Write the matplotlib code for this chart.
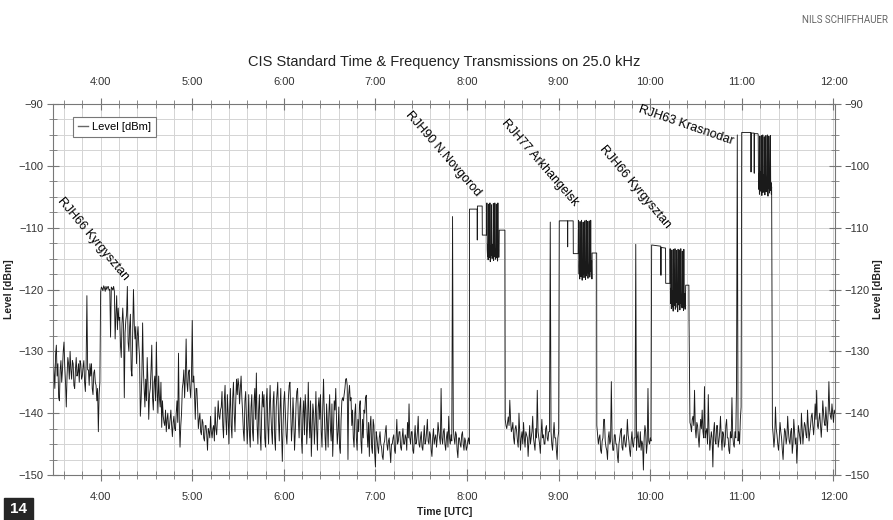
import numpy as np
import matplotlib.pyplot as plt

plt.rcParams["font.family"] = ["Liberation Sans", "DejaVu Sans"]

# Receiver level on 25.0 kHz, times are minutes after 0:00 UTC
# noise floor / weak signals, one reading every half minute
noise_a_start = 209
noise_a = [-131, -133.5, -136, -130.5, -129, -134, -132, -137.5, -138, -133,
           -131.5, -135, -133, -130, -128.5, -132.5, -135, -139, -134, -131,
           -132, -134.5, -130, -133, -134.5, -131.5, -132, -135.5, -136, -133,
           -131, -134, -133.5, -132, -135, -131.5, -132, -134.5, -134, -132.5,
           -131.5, -135, -136.5, -132, -121, -133, -133, -135.5, -132, -134,
           -132, -136, -137, -133.5, -133, -135, -135.5, -138, -136, -143,
           -137, -135]

noise_b_start = 240
noise_b = [-120.4, -119.6, -119.8, -120.2, -119.4, -119.7, -120.3, -119.5, -120.0, -119.6,
           -119.5, -120.1, -120.0, -127.7, -119.6, -119.8, -120.1, -119.5, -120.3, -128,
           -124, -121, -126.5, -123, -125, -124.5, -129, -131, -125.5, -123,
           -126, -137.5, -127, -125, -124, -119.5, -128.5, -130, -126, -124,
           -133, -134, -127, -120, -125.5, -128, -126, -132, -127.5, -126,
           -129, -131]

noise_c_start = 266
noise_c = [-140.5, -138, -134, -125.4, -133, -136, -139, -134.5, -138, -131,
           -135, -141, -137, -136, -133, -129, -137.5, -139.5, -135, -134,
           -138, -128.5, -136, -140, -134, -137.5, -139, -135, -142.3, -138,
           -140.5, -141.5, -142, -139.5, -143, -141, -140, -142.5, -142.5, -141,
           -139.5, -142, -143.8, -141.5, -140.5, -142.5, -142.8, -140, -138, -141.5,
           -130.3, -141, -145.5, -142, -140, -136, -135, -133, -137.5, -134,
           -128, -135, -136.5, -133.5, -133, -136, -137.5, -134, -125, -135,
           -134, -137, -141, -136, -136, -139, -142.5, -141, -140, -143,
           -143.5, -141, -141.5, -144, -144.5, -142, -142, -143.5, -146, -142.5,
           -143, -144, -140.5, -143, -144, -142.5, -142, -144.5, -139, -142.5,
           -143.5, -141, -138, -140.5, -141, -139.5]

noise_d_start = 319
noise_d = [-139, -136.5, -142, -144, -138, -135.5, -141, -143.5, -137, -140,
           -145, -139.5, -136, -142, -144, -137.5, -135, -140, -143, -138,
           -134.5, -137, -134.4, -135.5, -138.5, -136, -134, -137.5, -140, -143,
           -144.5, -138, -136.5, -141, -145, -142, -137, -143.5, -145.5, -139,
           -137, -143, -144.5, -138, -136, -141, -133.5, -142, -145, -139.5,
           -137, -143.5, -146, -140, -136.5, -139, -137, -144, -145.5, -138,
           -136, -142, -145, -139.5, -135.5, -140, -143, -145, -138, -136.5,
           -144, -146, -139, -137, -135, -141, -144.5, -139.5, -136, -143,
           -147.8, -142, -138, -136.5, -140, -143.5, -145, -141, -137.5, -135.5,
           -135, -140, -144.5, -142, -137.5, -141, -146, -143, -138.5, -136.5,
           -136, -141, -144, -139, -137.5, -144, -146.5, -140, -138, -143.5,
           -137, -139.5, -145, -142, -135, -141, -144, -138, -147, -143,
           -138.5, -140, -145, -141.5, -136.5, -142.5, -146, -139, -137.5, -141,
           -137, -143, -145.5, -139, -134.5, -140, -144, -146, -138.5, -141.5,
           -145.5, -140, -137, -142.5, -144.5, -138.5, -147, -143, -138, -139.5,
           -136, -141, -145, -143, -139, -145.5, -146.5, -141, -138, -137.5,
           -138, -137, -136, -134.5, -134.4, -135.5, -147.5, -137, -135.5, -138,
           -137.5, -142, -139.5, -144, -145.5, -140, -138.5, -144, -146, -141,
           -143, -139, -138, -144.5, -146.5, -141, -144, -139.5, -140, -137.5,
           -137.1, -143, -145.5, -141.5, -147, -142, -140.5, -145.5, -146.5, -141,
           -142, -146.5, -148.7, -143]

noise_e_start = 421
noise_e = [-144, -145.5, -146.5, -144, -143, -145, -145.5, -147, -147.5, -145,
           -144.5, -143, -142, -145, -146, -144.5, -144, -146, -148, -145,
           -145, -144, -143.5, -146, -146.5, -144, -141, -145, -144.5, -143,
           -143, -145.5, -146, -144, -142.5, -145, -145, -143.5, -144, -146,
           -141.5, -144, -138.5, -144, -145, -143, -143, -146, -146.5, -144,
           -142, -145, -144.5, -143, -140.5, -145, -145.5, -144, -143, -145.5,
           -146, -144, -142, -145, -144.5, -143, -141, -144.5, -145, -143,
           -143.5, -146, -147, -144, -142.5, -145, -144, -143.5, -145.5, -144,
           -141.5, -143, -144, -145, -136, -144, -145, -143, -142.5, -145,
           -146, -144, -143, -145.5, -140.5, -144, -145, -143.5, -144.5, -108.2,
           -142.5, -144, -145, -143, -143.5, -146, -147.2, -144, -144, -145,
           -145.5, -143.5, -143, -145, -146, -144, -144.5, -146, -145.5, -144.5,
           -144, -145]

noise_f_start = 505
noise_f = [-141, -142, -142.5, -141.5, -140.6, -142, -137.9, -141, -143, -142.5,
           -141.5, -144, -145, -142.5, -142, -143, -144.5, -145.5, -140, -143,
           -146, -144, -143, -145, -141.5, -144, -145.5, -143, -143.5, -144,
           -147, -144.5, -142, -145, -144, -143, -140.5, -144, -145, -146,
           -142.5, -144, -136.3, -143, -144, -145, -146.5, -143.5, -141, -144,
           -143.5, -145, -145, -142.5, -142, -144, -144.5, -143, -143, -109.1,
           -143, -145, -146, -143.5, -141.5, -144, -144, -146, -147.5, -144,
           -143]

noise_g_start = 565
noise_g = [-142, -143.5, -145, -144, -143.5, -146, -146.5, -144.5, -144, -141,
           -141, -144.5, -145.5, -146, -147.5, -144, -143, -145, -144.5, -134.9,
           -144, -146, -146, -143.5, -143.5, -145, -145, -147, -148, -145,
           -144, -143, -142.5, -145.5, -146, -144, -143.5, -145, -145.5, -144,
           -141, -143.5, -144.5, -146, -147, -144.5, -143, -145, -145.5, -144,
           -144, -112.7, -146, -144, -143, -145.5, -145.5, -143, -146, -144.5,
           -145, -149.2, -144, -142, -143, -146.5, -145, -136, -144.5, -145,
           -144, -144.5]

noise_h_start = 626
noise_h = [-141.5, -142, -143, -141, -140.5, -142, -136.3, -142.5, -144, -141.5,
           -142, -144, -145.5, -143, -141, -142.5, -139.5, -143, -144, -135.7,
           -144, -143, -142.5, -145, -137, -143, -146, -144.5, -143, -144,
           -148.7, -143, -141.5, -144.5, -145, -142, -142, -145.5, -144.5, -143,
           -140.5, -144, -146, -143, -143.5, -145.5, -145, -142, -141, -144,
           -144, -146, -146.5, -143, -144, -137.5, -143.5, -145, -145.5, -143,
           -144, -135.4, -95.0, -144.5, -143, -145, -141, -139]

noise_i_start = 680
noise_i = [-142, -143.5, -145.5, -144, -139, -142.5, -143.5, -145, -146, -144,
           -141.5, -143, -144, -146, -147.5, -144.5, -142.5, -143, -145, -144,
           -140.5, -143, -144.5, -145, -143, -142.5, -146.5, -145, -141, -143,
           -145, -144, -148.1, -145, -142, -143, -144, -145, -140, -142.5,
           -145, -143, -141.5, -142, -143.5, -144, -139.5, -142, -144.5, -143,
           -142, -140.5, -140, -142, -143.5, -141.5, -138.5, -141, -136.3, -142,
           -142.5, -141, -140, -142, -143.9, -141.5, -138, -140, -141.5, -142,
           -139, -141, -143, -140, -134.9, -139.5, -140.5, -141, -138.5, -140,
           -141.5, -139.5, -140]

# carriers: on, ID drops, then time code keying (0.2 min readings), then carrier tail
rjh90_t = [481.6, 486.6, 486.7, 486.8, 489.9, 490.0, 492.8]
rjh90_v = [-107, -107, -112, -106.5, -106.5, -111.2, -111.2]
rjh90_key_start = 493.0
rjh90_key = [-106, -113.5, -114.6, -112.8, -115.2, -106.2, -113.9, -112.5, -114.8, -113.2,
             -106, -115.5, -114, -112.9, -114.5, -106.3, -113.6, -115, -112.7, -114.2,
             -113.8, -106.1, -115.3, -113, -114.7, -112.6, -106, -113.9, -115.1, -114.4,
             -113.3, -106.2, -114.9, -113.7, -112.8, -115.4, -106, -114.1, -113.2, -114.8,
             -113.6]
rjh90_tail_t = [501.1, 504.8]
rjh90_tail_v = [-110.4, -110.4]

rjh77_t = [540.4, 545.8, 545.9, 546.0, 549.5, 549.6, 552.8]
rjh77_v = [-108.9, -108.9, -113.1, -108.9, -108.9, -114.2, -114.2]
rjh77_key_start = 553.0
rjh77_key = [-108.8, -116.2, -117.5, -115.4, -118.3, -109, -116.8, -114.9, -117.9, -116,
             -108.8, -117.2, -118.5, -115.8, -116.9, -109.1, -117.6, -115.2, -118.1, -116.5,
             -108.9, -117, -115.6, -118.4, -116.3, -108.8, -117.8, -116.1, -114.8, -117.3,
             -109, -118.2, -116.6, -117.4, -115.5, -108.9, -116.9, -118, -115.9, -117.1,
             -108.8, -116.4, -117.7, -115.3, -118.3]
rjh77_tail_t = [561.9, 564.9]
rjh77_tail_v = [-114.1, -114.1]

rjh66_t = [600.9, 606.9, 607.0, 607.1, 610.0, 610.1, 612.9]
rjh66_v = [-112.8, -113.0, -117.7, -113.2, -113.3, -119, -119]
rjh66_key_start = 613.0
rjh66_key = [-113.4, -120.5, -122.3, -119.8, -123.1, -121.4, -113.6, -122.8, -120.2, -121.9,
             -123.5, -113.5, -120.9, -122.6, -119.7, -121.2, -113.4, -123.2, -120.6, -122.1,
             -121.5, -113.7, -120.3, -122.9, -121, -123.6, -113.5, -121.8, -120.4, -122.5,
             -113.6, -120.8, -123.3, -121.6, -122.2, -113.4, -120.1, -122.7, -121.3, -123,
             -113.8, -121.9, -120.5, -122.4, -123.4, -113.5, -121.1, -122.8, -120.7, -123.2,
             -121.7]
rjh66_tail_t = [623.2, 625.3, 625.4]
rjh66_tail_v = [-119.3, -119.3, -125.3]

rjh63_t = [659.9, 665.9, 666.0, 666.1, 668.0, 668.1, 668.2, 670.5]
rjh63_v = [-94.6, -94.6, -101, -94.7, -94.7, -101.2, -94.8, -94.8]
rjh63_key_start = 670.7
rjh63_key = [-95, -102.3, -103.8, -101.2, -104.6, -95.2, -102.9, -100.9, -104.1, -103.2,
             -95.1, -101.7, -104.8, -102.5, -103.5, -95, -104.3, -101.5, -103, -102.1,
             -95.3, -103.9, -104.7, -101.9, -102.8, -95.1, -104.2, -102.6, -103.6, -101.3,
             -95, -103.1, -104.9, -102.2, -103.7, -95.2, -101.8, -104.4, -103.3, -102.4,
             -95.1, -104, -102.7, -104.6, -103.4]

station_names = ["RJH66 Kyrgysztan", "RJH90 N.Novgorod", "RJH77 Arkhangelsk",
                 "RJH66 Kyrgysztan", "RJH63 Krasnodar"]
station_x = [235.0, 464.2, 527.7, 590.0, 623.2]
station_y = [-111.8, -98.0, -99.5, -103.4, -93.4]
station_rot = [-50, -49, -49, -50, -19]

hour_ticks = [240, 300, 360, 420, 480, 540, 600, 660, 720]
hour_labels = ["4:00", "5:00", "6:00", "7:00", "8:00", "9:00", "10:00", "11:00", "12:00"]


def minutes(start, values, step=1.0):
    return start + step * np.arange(len(values))


pieces = [
    (minutes(noise_a_start, noise_a, 0.5), noise_a),
    (minutes(noise_b_start, noise_b, 0.5), noise_b),
    (minutes(noise_c_start, noise_c, 0.5), noise_c),
    (minutes(noise_d_start, noise_d, 0.5), noise_d),
    (minutes(noise_e_start, noise_e, 0.5), noise_e),
    (rjh90_t, rjh90_v),
    (minutes(rjh90_key_start, rjh90_key, 0.2), rjh90_key),
    (rjh90_tail_t, rjh90_tail_v),
    (minutes(noise_f_start, noise_f, 0.5), noise_f),
    (rjh77_t, rjh77_v),
    (minutes(rjh77_key_start, rjh77_key, 0.2), rjh77_key),
    (rjh77_tail_t, rjh77_tail_v),
    (minutes(noise_g_start, noise_g, 0.5), noise_g),
    (rjh66_t, rjh66_v),
    (minutes(rjh66_key_start, rjh66_key, 0.2), rjh66_key),
    (rjh66_tail_t, rjh66_tail_v),
    (minutes(noise_h_start, noise_h, 0.5), noise_h),
    (rjh63_t, rjh63_v),
    (minutes(rjh63_key_start, rjh63_key, 0.2), rjh63_key),
    (minutes(noise_i_start, noise_i, 0.5), noise_i),
]
t = np.concatenate([np.asarray(p[0], float) for p in pieces])
v = np.concatenate([np.asarray(p[1], float) for p in pieces])

fig = plt.figure(figsize=(8.93, 5.2), dpi=100)
ax = fig.add_axes([53 / 893, 45 / 520, 782 / 893, 371 / 520])

ax.plot(t, v, color="#1a1a1a", lw=0.65, label="Level [dBm]")

ax.set_xlim(208.8, 721)
ax.set_ylim(-150, -90)
ax.set_xticks(hour_ticks)
ax.set_xticklabels(hour_labels)
ax.set_xticks(np.arange(216, 721, 12), minor=True)
ax.set_yticks(np.arange(-150, -89, 10))
ax.set_yticks(np.arange(-150, -89, 2.5), minor=True)
ax.grid(which="both", color="#d4d4d4", lw=0.7)
ax.set_axisbelow(True)

ax.tick_params(which="both", top=True, right=True, labeltop=True, labelright=True,
               direction="inout", color="#777777", labelsize=8, labelcolor="#333333")
ax.tick_params(which="major", length=8)
ax.tick_params(which="minor", length=6)
ax.tick_params(axis="x", pad=8)
ax.tick_params(axis="y", pad=3)
for s in ax.spines.values():
    s.set_color("#777777")
    s.set_linewidth(0.8)

for name, x, y, r in zip(station_names, station_x, station_y, station_rot):
    ax.text(x, y, name, rotation=r, rotation_mode="anchor", ha="center", va="center",
            fontsize=9, color="black")

leg = ax.legend(loc="upper left", bbox_to_anchor=(20 / 782, 358 / 371), borderaxespad=0,
                fontsize=8, handlelength=0.9, handletextpad=0.4, borderpad=0.45,
                fancybox=False, edgecolor="#777777", framealpha=1)
leg.get_frame().set_linewidth(0.8)
leg.legend_handles[0].set_color("#666666")
leg.legend_handles[0].set_linewidth(1.0)

fig.text(444 / 893, 1 - 62 / 520, "CIS Standard Time & Frequency Transmissions on 25.0 kHz",
         ha="center", va="center", fontsize=10.5, color="#222222")
fig.text(445 / 893, 1 - 512 / 520, "Time [UTC]", ha="center", va="center",
         fontsize=7.5, fontweight="bold", color="#222222")
fig.text(9 / 893, 1 - 289 / 520, "Level [dBm]", rotation=90, ha="center", va="center",
         fontsize=7.5, fontweight="bold", color="#222222")
fig.text(878 / 893, 1 - 289 / 520, "Level [dBm]", rotation=90, ha="center", va="center",
         fontsize=7.5, fontweight="bold", color="#222222")

fig.text(888 / 893, 1 - 20 / 520, "NILS SCHIFFHAUER", ha="right", va="center",
         fontsize=7, color="#666666", family=["Roboto", "DejaVu Sans"])
fig.patches.append(plt.Rectangle((4 / 893, 0), 29 / 893, 22 / 520, transform=fig.transFigure,
                                 color="#262626", zorder=5))
fig.text(18.5 / 893, 11 / 520, "14", ha="center", va="center", fontsize=11,
         fontweight="bold", color="white", zorder=6)

fig.savefig("out.png", dpi=100)
